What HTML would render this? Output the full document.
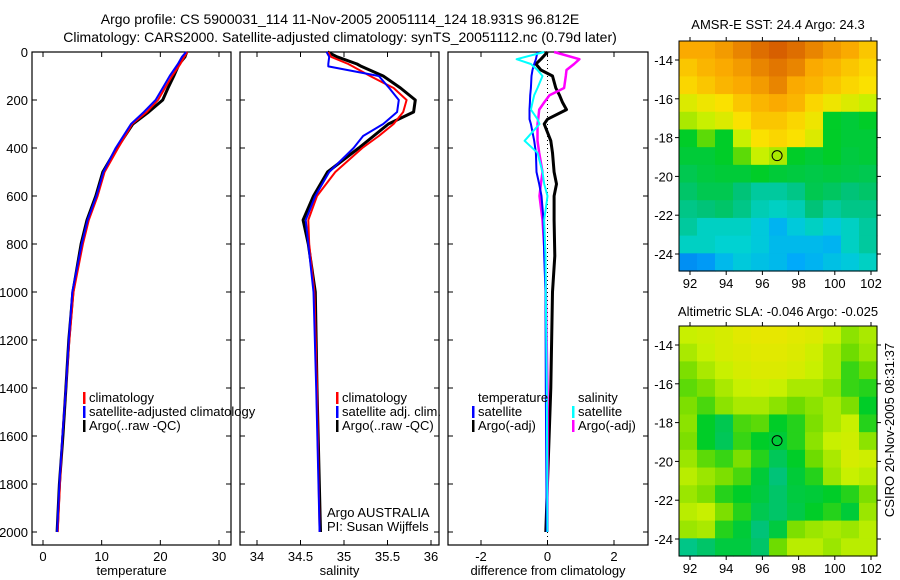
<!DOCTYPE html>
<html><head><meta charset="utf-8"><style>
html,body{margin:0;padding:0;background:#fff;}
svg{display:block;font-family:"Liberation Sans",sans-serif;}
text{font-size:13px;fill:#000;}
.ttl{font-size:14px;}
</style></head><body>
<svg id="fig" width="900" height="580" viewBox="0 0 900 580">
<text class="ttl" x="340" y="24" text-anchor="middle">Argo profile: CS 5900031_114 11-Nov-2005 20051114_124 18.931S 96.812E</text>
<text class="ttl" x="340" y="42" text-anchor="middle">Climatology: CARS2000. Satellite-adjusted climatology: synTS_20051112.nc (0.79d later)</text>
<text x="778" y="29" text-anchor="middle">AMSR-E SST: 24.4 Argo: 24.3</text>
<text x="778" y="316" text-anchor="middle">Altimetric SLA: -0.046 Argo: -0.025</text>
<text transform="translate(894,430) rotate(-90)" text-anchor="middle">CSIRO 20-Nov-2005 08:31:37</text>
</svg>
<script>
const NS="http://www.w3.org/2000/svg";
const svg=document.getElementById('fig');
// ---- data ----
const depthT=[0,20,50,100,150,200,250,300,400,500,600,700,800,1000,1200,1400,1600,1800,2000];
const tempArgo=[24.5,24.2,23.2,22.3,21.3,20.4,18.0,15.3,12.6,10.2,9.0,7.5,6.5,5.1,4.4,3.9,3.4,2.8,2.4];
const tempClim=[24.6,24.1,23.4,22.0,20.8,19.6,17.7,15.2,12.8,10.5,9.3,7.8,6.8,5.2,4.5,3.9,3.3,2.9,2.5];
const tempSat=[24.4,23.7,23.0,21.6,20.4,19.2,17.2,15.0,12.4,10.3,9.1,7.6,6.6,5.0,4.4,3.9,3.3,2.8,2.4];
const depthS=[0,20,50,60,100,150,200,250,300,350,400,500,600,700,800,1000,1400,2000];
const salArgo=[34.81,34.92,35.15,35.2,35.45,35.65,35.82,35.80,35.51,35.34,35.17,34.81,34.65,34.53,34.59,34.67,34.69,34.73];
const salClim=[34.82,34.85,35.05,35.1,35.30,35.57,35.72,35.68,35.57,35.40,35.21,34.90,34.69,34.59,34.60,34.66,34.69,34.72];
const salSat=[34.80,34.83,34.82,34.82,35.40,35.52,35.63,35.61,35.45,35.22,35.11,34.83,34.67,34.56,34.59,34.65,34.68,34.72];
const depthD=[0,30,50,75,100,150,180,210,240,280,300,370,420,500,550,600,700,850,1000,1400,2000];
const dTempSat=[-0.3,-0.35,-0.4,-0.45,-0.48,-0.5,-0.52,-0.53,-0.54,-0.54,-0.5,-0.4,-0.35,-0.33,-0.25,-0.18,-0.12,-0.1,-0.06,-0.05,-0.02];
const dTempArgo=[0.0,-0.2,-0.35,-0.2,0.15,0.25,0.36,0.45,0.57,0.0,-0.1,0.1,0.15,0.2,0.27,0.2,0.2,0.22,0.15,0.1,-0.05];
const dSalSat=[-0.1,-0.93,-0.5,-0.3,-0.15,-0.3,-0.4,-0.45,-0.5,-0.3,-0.24,-0.69,-0.3,-0.15,-0.1,0.0,-0.1,-0.06,-0.05,-0.02,0.0];
const dSalArgo=[0.2,0.96,0.8,0.57,0.55,0.5,0.06,-0.1,-0.25,-0.28,-0.3,-0.3,-0.25,-0.15,-0.2,-0.24,-0.15,-0.08,-0.05,0.0,0.0];
const tempTicks=[0,10,20,30];
const salTicks=[34,34.5,35,35.5,36];
const diffTicks=[-2,0,2];
const depthTicks=[0,200,400,600,800,1000,1200,1400,1600,1800,2000];
const lonTicks=[92,94,96,98,100,102];
const latTicks=[-14,-16,-18,-20,-22,-24];
const sstGrid=[
[.8,.8,.82,.85,.88,.9,.88,.85,.82,.8,.75],
[.75,.78,.8,.82,.85,.87,.85,.8,.78,.75,.72],
[.72,.75,.78,.8,.82,.85,.8,.78,.75,.72,.7],
[.65,.68,.7,.75,.78,.8,.78,.72,.68,.65,.62],
[.6,.62,.65,.7,.75,.75,.72,.68,.5,.48,.5],
[.5,.55,.5,.62,.7,.72,.7,.65,.5,.48,.48],
[.48,.48,.5,.55,.62,.6,.5,.48,.5,.47,.48],
[.45,.47,.48,.48,.5,.48,.47,.46,.47,.46,.45],
[.42,.45,.45,.4,.35,.35,.38,.45,.43,.4,.42],
[.38,.4,.42,.38,.32,.3,.32,.4,.35,.38,.38],
[.35,.3,.3,.3,.25,.18,.25,.3,.25,.3,.35],
[.3,.3,.28,.28,.25,.2,.2,.2,.18,.3,.35],
[.1,.12,.2,.25,.22,.2,.15,.18,.22,.25,.3]];
const slaGrid=[
[.62,.63,.64,.66,.67,.67,.66,.65,.62,.58,.6],
[.6,.62,.64,.65,.66,.66,.65,.63,.6,.56,.59],
[.57,.6,.62,.64,.65,.65,.64,.62,.6,.53,.56],
[.55,.57,.6,.62,.63,.62,.6,.6,.58,.53,.52],
[.57,.54,.58,.6,.6,.58,.56,.58,.6,.57,.5],
[.58,.5,.45,.54,.55,.5,.52,.57,.6,.62,.52],
[.57,.5,.44,.53,.5,.48,.52,.58,.62,.63,.58],
[.59,.55,.53,.57,.52,.44,.5,.56,.6,.64,.63],
[.61,.59,.57,.54,.48,.4,.48,.52,.59,.62,.61],
[.59,.57,.52,.5,.47,.42,.47,.48,.5,.52,.57],
[.61,.62,.57,.52,.45,.42,.46,.5,.52,.48,.59],
[.59,.6,.52,.48,.4,.47,.57,.59,.6,.59,.61],
[.38,.42,.47,.47,.42,.56,.61,.61,.59,.61,.61]];
const floatLon=96.812, floatLat=-18.931;

function mk(tag,attrs,parent){const e=document.createElementNS(NS,tag);for(const k in attrs)e.setAttribute(k,attrs[k]);(parent||svg).appendChild(e);return e;}
function lin(d0,d1,r0,r1){return v=>r0+(v-d0)*(r1-r0)/(d1-d0);}
const yDepth=lin(0,2000,52,532);
const PT=52,PB=545;
function panel(name,x0,x1,xs,ticks,label,yLabels){
  const g=mk('g',{});
  
  
  const r=mk('rect',{x:x0,y:PT,width:x1-x0,height:PB-PT,fill:'none',stroke:'#000','stroke-width':1.2},g);
  
  
  ticks.forEach(t=>{const x=xs(t);
    mk('line',{x1:x,x2:x,y1:PB,y2:PB-5,stroke:'#000'},g);
    mk('line',{x1:x,x2:x,y1:PT,y2:PT+5,stroke:'#000'},g);
    const tx=mk('text',{x:x,y:PB+16,'text-anchor':'middle'},g);tx.textContent=String(t);
    
    
  });
  depthTicks.forEach(d=>{const y=yDepth(d);
    mk('line',{x1:x0,x2:x0+5,y1:y,y2:y,stroke:'#000'},g);
    mk('line',{x1:x1,x2:x1-5,y1:y,y2:y,stroke:'#000'},g);
    if(yLabels){const tx=mk('text',{x:x0-4,y:y+5,'text-anchor':'end'},g);tx.textContent=String(d);
      
      }
  });
  const lb=mk('text',{x:(x0+x1)/2,y:575,'text-anchor':'middle'},g);lb.textContent=label;
  
  
  return g;
}
function line(g,name,xs,vals,depths,color,w){
  const pts=vals.map((v,i)=>xs(v).toFixed(1)+','+yDepth(depths[i]).toFixed(1)).join(' ');
  const p=mk('polyline',{points:pts,fill:'none',stroke:color,'stroke-width':w,'stroke-linejoin':'round'},g);
  
  
}
function legend(g,x,y,items){
  items.forEach((it,i)=>{const yy=y+i*14;
    if(it[1]){const m=mk('rect',{x:x,y:yy-10,width:2.5,height:12,fill:it[1]},g);
      
      }
    const t=mk('text',{x:x+6,y:yy},g);t.textContent=it[0];
    
    
  });
}
const xT=lin(0,30,43,219);
const g1=panel('temperature-panel',32,231,xT,tempTicks,'temperature',true);
line(g1,'temp-argo-line',xT,tempArgo,depthT,'#000',3);
line(g1,'temp-climatology-line',xT,tempClim,depthT,'#f00',2);
line(g1,'temp-satellite-line',xT,tempSat,depthT,'#00f',2);
legend(g1,83,402,[['climatology','#f00'],['satellite-adjusted climatology','#00f'],['Argo(..raw -QC)','#000']]);
const xS=lin(34,36,257,431);
const g2=panel('salinity-panel',240,439,xS,salTicks,'salinity',false);
line(g2,'sal-argo-line',xS,salArgo,depthS,'#000',3);
line(g2,'sal-climatology-line',xS,salClim,depthS,'#f00',2);
line(g2,'sal-satellite-line',xS,salSat,depthS,'#00f',2);
legend(g2,336,402,[['climatology','#f00'],['satellite adj. clim.','#00f'],['Argo(..raw -QC)','#000']]);
legend(g2,321,517,[['Argo AUSTRALIA',null],['PI: Susan Wijffels',null]]);
const xD=lin(-2,2,481,614);
const g3=panel('difference-panel',448,648,xD,diffTicks,'difference from climatology',false);
const z=mk('line',{x1:xD(0),x2:xD(0),y1:PT,y2:PB,stroke:'#000','stroke-dasharray':'1,3'},g3);


line(g3,'diff-temp-argo-line',xD,dTempArgo,depthD,'#000',3);
line(g3,'diff-sal-argo-line',xD,dSalArgo,depthD,'#f0f',2.5);
line(g3,'diff-temp-satellite-line',xD,dTempSat,depthD,'#00f',2);
line(g3,'diff-sal-satellite-line',xD,dSalSat,depthD,'#0ff',2);
legend(g3,472,402,[['temperature',null],['satellite','#00f'],['Argo(-adj)','#000']]);
legend(g3,572,402,[['salinity',null],['satellite','#0ff'],['Argo(-adj)','#f0f']]);
const stops=[[0,[0,90,230]],[.15,[0,170,250]],[.28,[0,210,210]],[.4,[0,195,120]],[.5,[0,205,40]],[.56,[110,220,0]],[.62,[200,240,0]],[.7,[250,225,0]],[.8,[250,170,0]],[.9,[215,95,0]],[1,[190,70,0]]];
function cmap(v){for(let i=1;i<stops.length;i++){if(v<=stops[i][0]){const a=stops[i-1],b=stops[i],f=(v-a[0])/(b[0]-a[0]);
  return 'rgb('+a[1].map((c,k)=>Math.round(c+(b[1][k]-c)*f)).join(',')+')';}}return 'rgb(190,70,0)';}
function map(name,top,bottom,grid){
  const x0=679,x1=877;
  const xs=lin(92,102,690,871);
  const ys=lin(-14,-24,top+19,top+19+194);
  const g=mk('g',{});
  
  
  const R=grid.length,C=grid[0].length,cw=(x1-x0)/C,ch=(bottom-top)/R;
  grid.forEach((row,r)=>row.forEach((v,c)=>{
    const cell=mk('rect',{x:(x0+c*cw).toFixed(2),y:(top+r*ch).toFixed(2),width:(cw+0.6).toFixed(2),height:(ch+0.6).toFixed(2),fill:cmap(v)},g);
    
    
  }));
  const fr=mk('rect',{x:x0,y:top,width:x1-x0,height:bottom-top,fill:'none',stroke:'#000'},g);
  
  
  lonTicks.forEach(l=>{const x=xs(l);
    mk('line',{x1:x,x2:x,y1:bottom,y2:bottom+4,stroke:'#000'},g);
    mk('line',{x1:x,x2:x,y1:top,y2:top-4,stroke:'#000'},g);
    const t=mk('text',{x:x,y:bottom+17,'text-anchor':'middle'},g);t.textContent=String(l);
    
    });
  latTicks.forEach(l=>{const y=ys(l);
    mk('line',{x1:x0,x2:x0-4,y1:y,y2:y,stroke:'#000'},g);
    mk('line',{x1:x1,x2:x1+4,y1:y,y2:y,stroke:'#000'},g);
    const t=mk('text',{x:x0-6,y:y+5,'text-anchor':'end'},g);t.textContent=String(l);
    
    });
  const c=mk('circle',{cx:xs(floatLon),cy:ys(floatLat),r:5,fill:'none',stroke:'#000'},g);
  
  
}
map('sst-map',41,271,sstGrid);
map('sla-map',326,556,slaGrid);
</script>
</body></html>
